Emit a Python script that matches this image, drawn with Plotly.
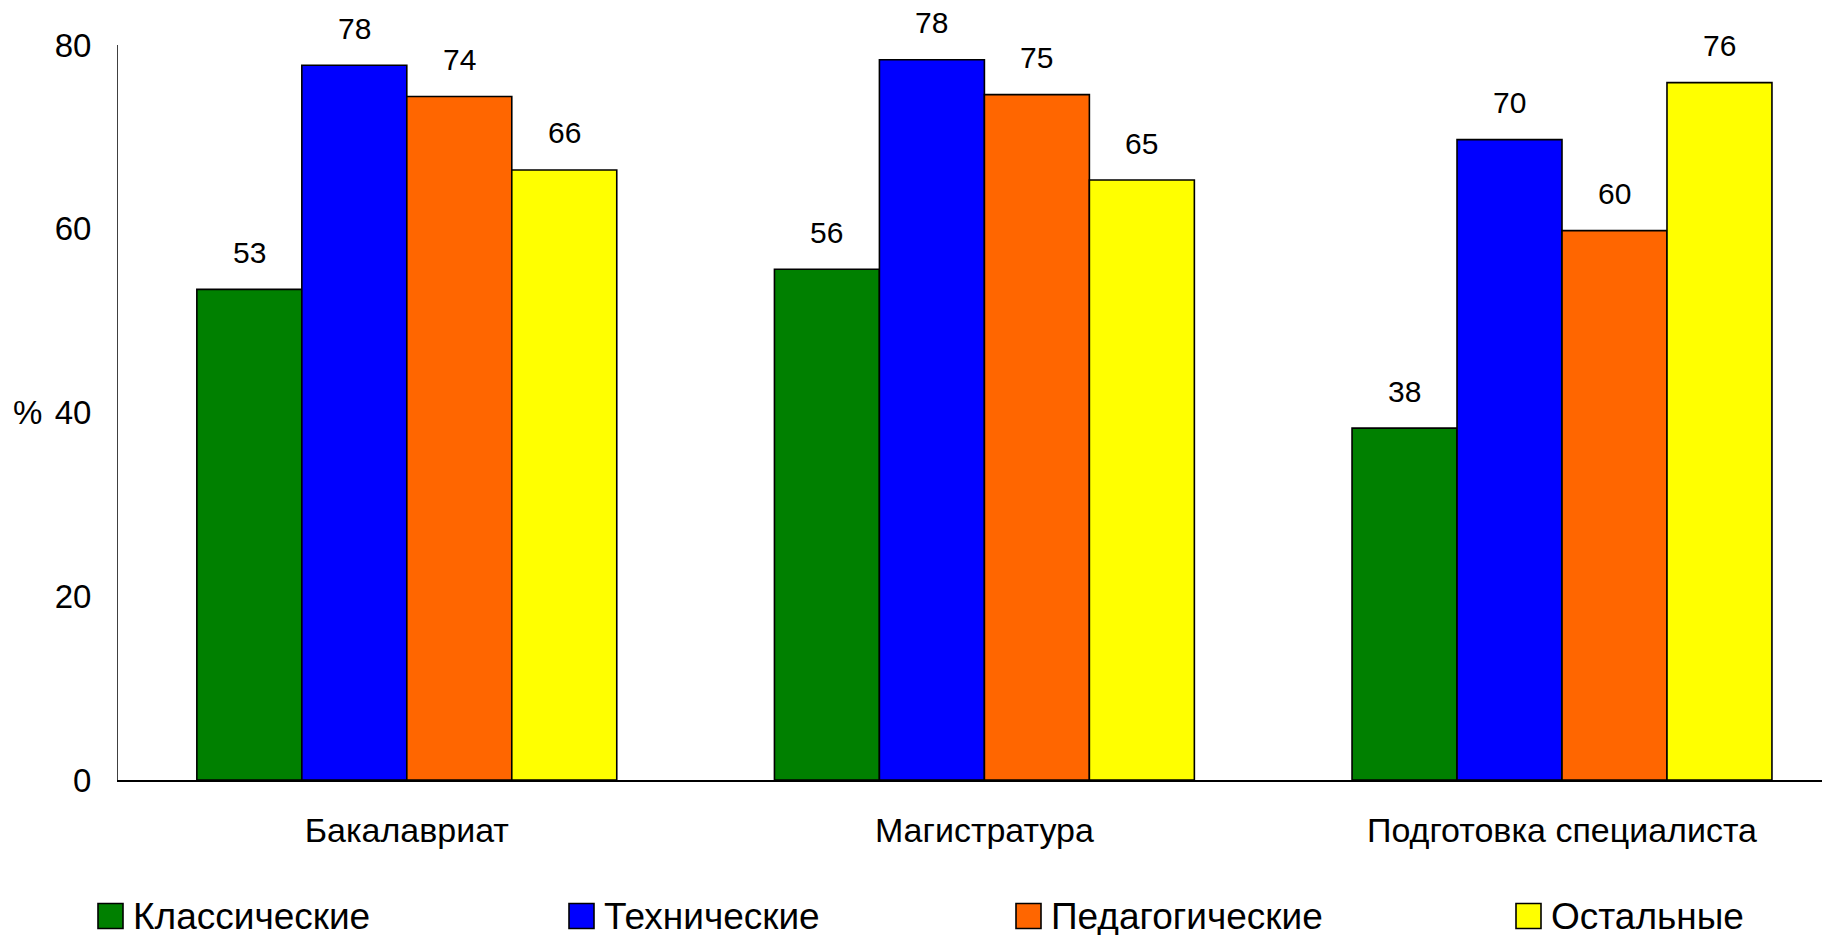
import plotly.graph_objects as go

categories = ["Бакалавриат", "Магистратура", "Подготовка специалиста"]
series_names = ["Классические", "Технические", "Педагогические", "Остальные"]
classic = [53.4, 55.6, 38.3]
technical = [77.8, 78.4, 69.7]
pedagogical = [74.4, 74.6, 59.8]
other = [66.4, 65.3, 75.9]
y_ticks = [0, 20, 40, 60, 80]

colors = ["#008000", "#0000FF", "#FF6600", "#FFFF00"]
series_values = [classic, technical, pedagogical, other]

FONT = "Liberation Sans, Arial, sans-serif"
FIG_W, FIG_H = 1830, 935
M_L, M_T, M_B = 110, 37, 163
PLOT_W = FIG_W - M_L
PLOT_H = FIG_H - M_T - M_B
CATEGORY_PX = 577.6
BAR_GAP = 0.273
bar_width = (1 - BAR_GAP) / len(series_values)

# legend layout (figure pixels)
LEGEND_LEFTS = [90, 561, 1008, 1508]
LEGEND_Y = 908
BOX = 25
TEXT_GAP = 33


def paper_x(px):
    return (px - M_L) / PLOT_W


def paper_y(py):
    return (FIG_H - M_B - py) / PLOT_H


fig = go.Figure()
annotations = []
shapes = []
for i, (name, values, color) in enumerate(zip(series_names, series_values, colors)):
    fig.add_trace(
        go.Bar(
            x=categories,
            y=values,
            name=name,
            marker={"color": color, "line": {"color": "black", "width": 1.6}},
            hoverinfo="skip",
            showlegend=False,
        )
    )
    offset = (i - (len(series_values) - 1) / 2) * bar_width
    for j, value in enumerate(values):
        annotations.append(
            dict(
                x=j + offset,
                y=value,
                xref="x",
                yref="y",
                text=f"{value:.0f}",
                showarrow=False,
                yanchor="middle",
                yshift=37,
                font={"size": 30, "color": "black", "family": FONT},
            )
        )

    left = LEGEND_LEFTS[i]
    shapes.append(
        dict(
            type="rect",
            xref="paper",
            yref="paper",
            x0=paper_x(left),
            x1=paper_x(left + BOX),
            y0=paper_y(LEGEND_Y + BOX / 2),
            y1=paper_y(LEGEND_Y - BOX / 2),
            fillcolor=color,
            line={"color": "black", "width": 1.6},
        )
    )
    annotations.append(
        dict(
            x=paper_x(left + TEXT_GAP),
            y=paper_y(LEGEND_Y),
            xref="paper",
            yref="paper",
            text=name,
            showarrow=False,
            xanchor="left",
            yanchor="middle",
            font={"size": 37, "color": "black", "family": FONT},
        )
    )

annotations.append(
    dict(
        x=0,
        y=40,
        xref="paper",
        yref="y",
        text="%",
        showarrow=False,
        xanchor="right",
        yanchor="middle",
        xshift=-74,
        font={"size": 33, "color": "black", "family": FONT},
    )
)

fig.update_layout(
    width=FIG_W,
    height=FIG_H,
    barmode="group",
    bargap=BAR_GAP,
    bargroupgap=0,
    plot_bgcolor="white",
    paper_bgcolor="white",
    font={"family": FONT, "size": 32, "color": "black"},
    margin={"l": M_L, "r": 0, "t": M_T, "b": M_B, "autoexpand": False},
    annotations=annotations,
    shapes=shapes,
    showlegend=False,
)
fig.update_xaxes(
    range=[-0.5, -0.5 + PLOT_W / CATEGORY_PX],
    showline=True,
    linecolor="black",
    linewidth=1.5,
    showgrid=False,
    ticks="",
    ticklabelstandoff=19,
    tickfont={"size": 34},
)
fig.update_yaxes(
    range=[0, 80],
    tickvals=y_ticks,
    showline=True,
    linecolor="#404040",
    linewidth=1,
    showgrid=False,
    zeroline=False,
    ticks="",
    ticklabelstandoff=19,
    tickfont={"size": 33},
)

fig.write_html("out.html")
